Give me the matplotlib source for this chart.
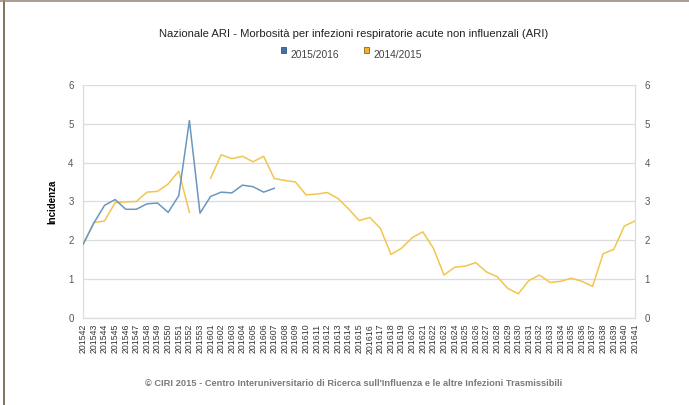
import numpy as np
import matplotlib
matplotlib.use("Agg")
import matplotlib.pyplot as plt
from matplotlib.lines import Line2D
from matplotlib.patches import Rectangle

plt.rcParams['font.family'] = ['Liberation Sans', 'DejaVu Sans']

# settimane
weeks = [str(201542 + k) for k in range(12)] + ["2016%02d" % k for k in range(1, 42)]

# 2015/2016 (si ferma alla settimana 201607)
ari_1516 = [1.91, 2.45, 2.90, 3.05, 2.80, 2.80, 2.94, 2.96, 2.72, 3.15,
            5.08, 2.70, 3.13, 3.24, 3.22, 3.42, 3.38, 3.24, 3.34]

# 2014/2015 (manca la settimana 53)
ari_1415 = [1.91, 2.46, 2.50, 2.97, 2.99, 3.00, 3.24, 3.26, 3.45, 3.78,
            2.72, np.nan, 3.60, 4.20, 4.10, 4.16, 4.02, 4.16, 3.59, 3.54,
            3.50, 3.17, 3.19, 3.23, 3.08, 2.81, 2.51, 2.59, 2.31, 1.64,
            1.80, 2.07, 2.22, 1.80, 1.11, 1.31, 1.34, 1.43, 1.19, 1.07,
            0.77, 0.63, 0.97, 1.11, 0.92, 0.95, 1.03, 0.95, 0.82, 1.66,
            1.77, 2.37, 2.50]

title = "Nazionale ARI - Morbosità per infezioni respiratorie acute non influenzali (ARI)"
footer = "© CIRI 2015 - Centro Interuniversitario di Ricerca sull'Influenza e le altre Infezioni Trasmissibili"

blue = "#6a97bf"
yellow = "#f3c54f"

fig = plt.figure(figsize=(6.89, 4.05), dpi=100)
ax = fig.add_axes([0.1209, 0.2141, 0.8007, 0.5768])

x = np.arange(len(weeks))
ax.plot(x[:len(ari_1516)], ari_1516, color=blue, lw=1.1, zorder=3)
ax.plot(x, ari_1415, color=yellow, lw=1.1, zorder=2)

ax.set_xlim(0, len(weeks) - 1)
ax.set_ylim(0, 6)
ax.set_yticks(range(7))
ax.grid(axis='y', color='#dcdcdc', lw=0.9)
ax.set_axisbelow(True)
ax.spines['top'].set_visible(False)
for s in ['left', 'right', 'bottom']:
    ax.spines[s].set_color('#dcdcdc')
    ax.spines[s].set_linewidth(0.9)

ax.set_xticks(x)
ax.set_xticklabels(weeks, rotation=90, fontsize=6.3, color='#333333')
ax.tick_params(axis='x', length=0, pad=4)
ax.tick_params(axis='y', length=0, labelsize=7, labelcolor='#555555',
               labelright=True, pad=7)
ax.set_ylabel("Incidenza", fontsize=7, fontweight='bold', labelpad=8)

fig.text(0.513, 0.917, title, ha='center', va='center', fontsize=8.1, color='#222222')

# legenda
for xs, xt, c, ec, lab in [(0.4074, 0.4209, "#3d74ab", "#1f3f60", "2015/2016"),
                           (0.5283, 0.5428, "#f2b52a", "#6b5010", "2014/2015")]:
    fig.patches.append(Rectangle((xs, 0.8699), 0.0073, 0.0133, transform=fig.transFigure,
                                 facecolor=c, edgecolor=ec, lw=0.5))
    fig.text(xt, 0.863, lab, ha='left', va='center', fontsize=7.4, color='#444444')

fig.text(0.513, 0.054, footer, ha='center', va='center', fontsize=6.7,
         fontweight='bold', color='#7a7a7a')

# cornice
fig.add_artist(Line2D([0.006, 0.006], [0, 1], color='#6b5a44', lw=1.2, transform=fig.transFigure))
fig.add_artist(Line2D([0, 1], [0.997, 0.997], color='#9a8c7c', lw=1.2, transform=fig.transFigure))

fig.savefig("out.png", dpi=100)
